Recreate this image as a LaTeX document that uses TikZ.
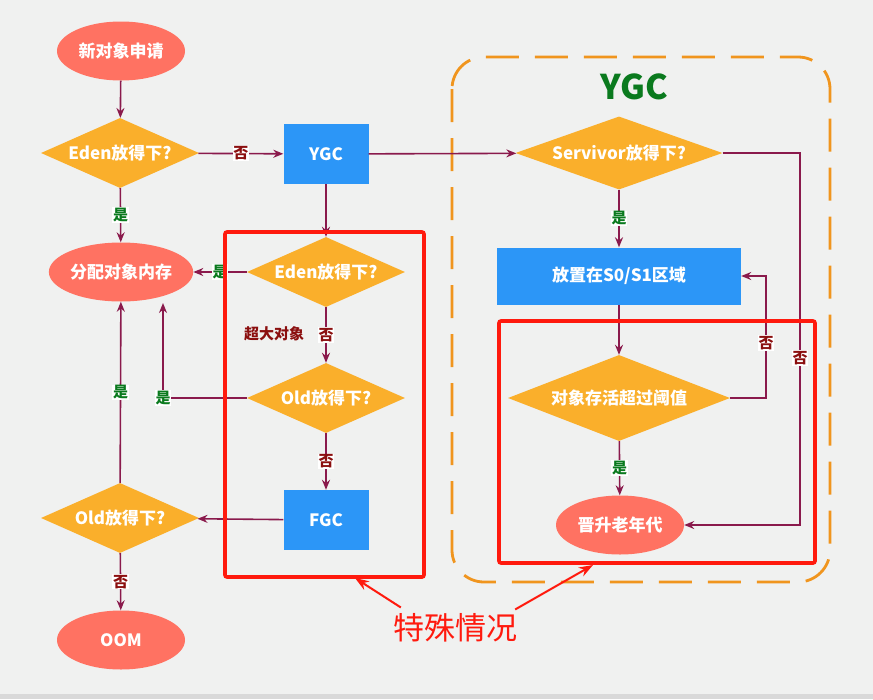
\documentclass[tikz,border=0pt]{standalone}
\usepackage{fontspec}
\setmainfont{Noto Sans CJK SC}
\usetikzlibrary{shapes.geometric,arrows.meta,calc}
\definecolor{bgc}{HTML}{F0F1F0}
\definecolor{ellc}{HTML}{FF7262}
\definecolor{diac}{HTML}{FAAF2B}
\definecolor{recc}{HTML}{2C96F7}
\definecolor{linc}{HTML}{8A1A4C}
\definecolor{noc}{HTML}{8B0F0F}
\definecolor{yesc}{HTML}{0A7A1E}
\definecolor{orc}{HTML}{F0951E}
\definecolor{redc}{HTML}{FF1A0E}
\tikzset{
  base/.style={text=white, font=\bfseries\fontsize{17}{20}\selectfont, inner sep=0pt},
  ell/.style={base, ellipse, fill=ellc, minimum width=128pt, minimum height=59pt},
  dia/.style={base, diamond, fill=diac, aspect=2.26, minimum width=158pt, minimum height=70pt},
  rec/.style={base, rectangle, fill=recc, minimum width=85pt, minimum height=60pt},
  conn/.style={draw=linc, line width=1.6pt, -{Stealth[length=10pt,width=8pt]}},
  nolab/.style={fill=white, text=noc, font=\bfseries\fontsize{15}{17}\selectfont, inner sep=0.8pt},
  yeslab/.style={fill=white, text=yesc, font=\bfseries\fontsize{15}{17}\selectfont, inner sep=0.8pt},
  redbox/.style={draw=redc, line width=3.6pt, rounded corners=2pt, rectangle, inner sep=0pt},
  redarr/.style={draw=redc, line width=2pt, -{Stealth[length=14pt,width=10pt]}},
}
\begin{document}
\begin{tikzpicture}[x=1pt,y=-1pt]
\useasboundingbox (0,0) rectangle (873,699);
\fill[bgc] (0,0) rectangle (873,699);
\fill[gray!30] (0,694) rectangle (873,699);

% YGC dashed region
\draw[orc, line width=2.8pt, dash pattern=on 33pt off 16pt, rounded corners=32pt] (452,57) rectangle (830,582);
\node[text=yesc, font=\bfseries\fontsize{34}{40}\selectfont] (ygctitle) at (634,87) {YGC};

% left column
\node[ell] (new) at (121,51) {新对象申请};
\node[dia] (eden1) at (120,153) {Eden放得下?};
\node[ell] (alloc) at (121,272) {分配对象内存};
\node[dia] (old2) at (120,518) {Old放得下?};
\node[ell] (oom) at (121,640) {OOM};

% middle column
\node[rec] (ygc) at (326,154) {YGC};
\node[dia] (eden2) at (326,272) {Eden放得下?};
\node[dia] (old1) at (326,398) {Old放得下?};
\node[rec] (fgc) at (326,520) {FGC};

% right column
\node[dia, aspect=2.84, minimum width=207pt, minimum height=73pt] (serv) at (619,153) {Servivor放得下?};
\node[rec, minimum width=244pt, minimum height=57pt] (place) at (619,276) {放置在S0/S1区域};
\node[dia, aspect=2.58, minimum width=222pt, minimum height=86pt] (age) at (619,398) {对象存活超过阈值};
\node[ell] (prom) at (620,525) {晋升老年代};

% helper coordinates
\coordinate (c1) at (163,303);
\coordinate (c2) at (766,340);
\coordinate (c3) at (800,340);

% connectors
\draw[conn] (new) -- (eden1);
\draw[conn] (eden1) -- node[nolab]{否} (ygc);
\draw[conn] (eden1) -- node[yeslab]{是} (alloc);
\draw[conn] (ygc) -- (eden2);
\draw[conn] (eden2) -- node[yeslab]{是} (alloc);
\draw[conn] (eden2) -- node[nolab]{否} (old1);
\node[text=noc, font=\bfseries\fontsize{15}{17}\selectfont] (big) at (274,334) {超大对象};
\draw[conn] (old1.west) -| node[yeslab]{是} (c1);
\draw[conn] (old1) -- node[nolab]{否} (fgc);
\draw[conn] (fgc) -- (old2);
\draw[conn] (old2) -- node[yeslab]{是} (alloc);
\draw[conn] (old2) -- node[nolab]{否} (oom);

\draw[conn] (ygc) -- (serv);
\draw[conn] (serv) -- node[yeslab]{是} (place);
\draw[conn] (place) -- (age);
\draw[conn] (age) -- node[yeslab]{是} (prom);
\draw[conn] (age.east) -| (c2) |- (place.east);
\node[nolab] at (766,343) {否};
\draw[conn] (serv.east) -| (c3) |- (prom.east);
\node[nolab] at (800,358) {否};

% red highlight boxes
\node[redbox, minimum width=199pt, minimum height=345pt] (rb1) at (324.5,404.5) {};
\node[redbox, minimum width=316pt, minimum height=242pt] (rb2) at (657,442) {};
\node[text=redc, font=\fontsize{31}{36}\selectfont, inner sep=0pt] (special) at (455,628) {特殊情况};
\coordinate (t1) at (355,578);
\coordinate (t2) at (593,565);
\draw[redarr] ($(special.north west)+(8,-6)$) -- (t1);
\draw[redarr] ($(special.north east)+(-2,-4)$) -- (t2);
\end{tikzpicture}
\end{document}
